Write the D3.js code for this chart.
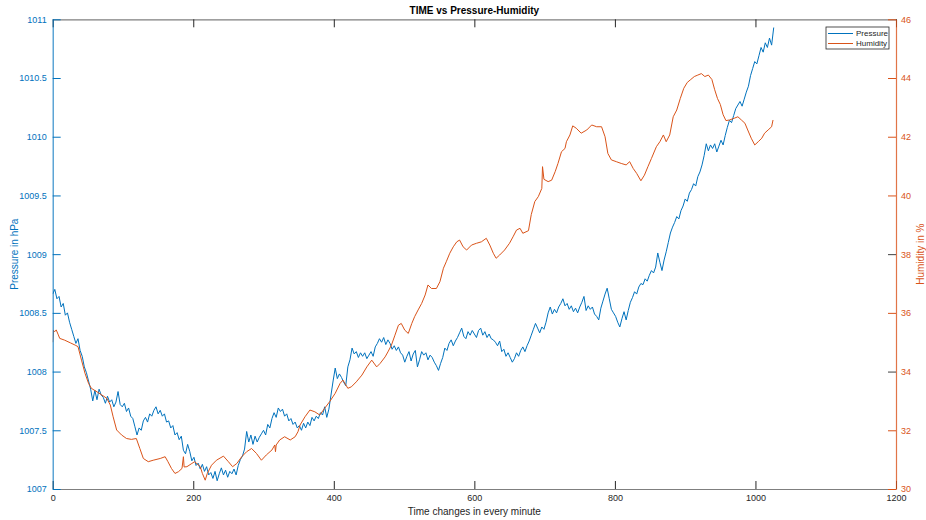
<!DOCTYPE html>
<html>
<head>
<meta charset="utf-8">
<script src="https://cdn.jsdelivr.net/npm/d3@7"></script>
<style>
  html, body { margin: 0; padding: 0; background: #fff; }
  svg { display: block; font-family: "Liberation Sans", Arial, Helvetica, sans-serif; }
</style>
</head>
<body>
<svg id="chart" width="926" height="520"></svg>
<script>
// Barometric pressure sampled every 3 minutes (hPa)
const pressureStep = 3;
const pressure = [
  1008.66, 1008.70, 1008.62, 1008.64, 1008.55, 1008.58, 1008.48, 1008.50, 1008.42, 1008.36,
  1008.30, 1008.24, 1008.28, 1008.18, 1008.13, 1008.04, 1007.99, 1007.92, 1007.85, 1007.75,
  1007.84, 1007.76, 1007.85, 1007.80, 1007.78, 1007.73, 1007.79, 1007.74, 1007.76, 1007.70,
  1007.74, 1007.83, 1007.72, 1007.70, 1007.73, 1007.66, 1007.69, 1007.62, 1007.60, 1007.53,
  1007.46, 1007.52, 1007.50, 1007.58, 1007.61, 1007.57, 1007.64, 1007.62, 1007.67, 1007.70,
  1007.64, 1007.67, 1007.62, 1007.64, 1007.57, 1007.58, 1007.52, 1007.54, 1007.46, 1007.48,
  1007.42, 1007.45, 1007.33, 1007.30, 1007.38, 1007.32, 1007.24, 1007.27, 1007.20, 1007.22,
  1007.17, 1007.21, 1007.15, 1007.19, 1007.12, 1007.14, 1007.09, 1007.15, 1007.07, 1007.13,
  1007.18, 1007.12, 1007.16, 1007.10, 1007.15, 1007.13, 1007.17, 1007.12, 1007.20, 1007.25,
  1007.28, 1007.34, 1007.49, 1007.40, 1007.46, 1007.38, 1007.45, 1007.40, 1007.44, 1007.47,
  1007.50, 1007.46, 1007.55, 1007.52, 1007.60, 1007.65, 1007.61, 1007.69, 1007.66, 1007.68,
  1007.62, 1007.64, 1007.58, 1007.60, 1007.55, 1007.57, 1007.52, 1007.54, 1007.50, 1007.56,
  1007.52, 1007.57, 1007.54, 1007.61, 1007.58, 1007.62, 1007.60, 1007.65, 1007.63, 1007.70,
  1007.61, 1007.68, 1007.80, 1007.92, 1008.03, 1007.94, 1007.98, 1007.95, 1007.91, 1007.88,
  1008.04, 1008.10, 1008.20, 1008.15, 1008.17, 1008.12, 1008.16, 1008.13, 1008.16, 1008.11,
  1008.14, 1008.17, 1008.13, 1008.21, 1008.24, 1008.28, 1008.25, 1008.29, 1008.23, 1008.27,
  1008.24, 1008.19, 1008.22, 1008.18, 1008.21, 1008.16, 1008.14, 1008.08, 1008.13, 1008.17,
  1008.09, 1008.15, 1008.18, 1008.04, 1008.10, 1008.17, 1008.14, 1008.16, 1008.10, 1008.14,
  1008.12, 1008.08, 1008.05, 1008.01, 1008.07, 1008.12, 1008.20, 1008.18, 1008.24, 1008.27,
  1008.22, 1008.26, 1008.29, 1008.33, 1008.37, 1008.30, 1008.28, 1008.34, 1008.31, 1008.35,
  1008.32, 1008.29, 1008.35, 1008.37, 1008.31, 1008.34, 1008.29, 1008.32, 1008.28, 1008.27,
  1008.25, 1008.22, 1008.26, 1008.17, 1008.19, 1008.13, 1008.16, 1008.12, 1008.08, 1008.11,
  1008.16, 1008.13, 1008.18, 1008.21, 1008.17, 1008.22, 1008.26, 1008.31, 1008.36, 1008.41,
  1008.37, 1008.33, 1008.38, 1008.36, 1008.42, 1008.50, 1008.55, 1008.49, 1008.53, 1008.50,
  1008.55, 1008.58, 1008.62, 1008.56, 1008.58, 1008.53, 1008.56, 1008.51, 1008.54, 1008.50,
  1008.55, 1008.59, 1008.64, 1008.52, 1008.56, 1008.53, 1008.55, 1008.49, 1008.47, 1008.44,
  1008.54, 1008.60, 1008.66, 1008.71, 1008.62, 1008.53, 1008.50, 1008.47, 1008.42, 1008.38,
  1008.45, 1008.51, 1008.44, 1008.52, 1008.59, 1008.63, 1008.68, 1008.66, 1008.72, 1008.75,
  1008.74, 1008.79, 1008.77, 1008.82, 1008.86, 1008.84, 1008.89, 1009.01, 1008.93, 1008.86,
  1008.95, 1009.02, 1009.10, 1009.18, 1009.23, 1009.27, 1009.32, 1009.30, 1009.37, 1009.41,
  1009.47, 1009.45, 1009.52, 1009.55, 1009.60, 1009.58, 1009.66, 1009.70, 1009.76, 1009.84,
  1009.94, 1009.88, 1009.93, 1009.90, 1009.94, 1009.87, 1009.92, 1009.97, 1009.93, 1010.01,
  1010.08, 1010.14, 1010.12, 1010.18, 1010.24, 1010.27, 1010.30, 1010.26, 1010.32, 1010.38,
  1010.43, 1010.52, 1010.58, 1010.64, 1010.62, 1010.69, 1010.76, 1010.72, 1010.80, 1010.76,
  1010.84, 1010.78, 1010.93
];

// Relative humidity readings (minute, %)
const humidityTime = [
  0, 1, 3, 5, 8, 10, 17, 25, 32, 36, 41, 46, 51, 55, 63, 70, 77, 82, 86, 91,
  98, 105, 112, 119, 124, 129, 136, 143, 153, 160, 164, 169, 174, 179, 184, 186, 187, 191, 198, 202,
  210, 213, 217, 220, 226, 233, 243, 250, 256, 262, 269, 276, 283, 290, 297, 304, 312, 316, 317, 318,
  323, 330, 338, 345, 349, 352, 359, 366, 373, 380, 387, 394, 402, 409, 413, 420, 425, 432, 440, 447,
  454, 461, 466, 473, 477, 482, 487, 492, 496, 501, 506, 511, 515, 520, 525, 530, 534, 539, 546, 551,
  556, 560, 565, 570, 575, 579, 584, 589, 596, 603, 610, 617, 622, 627, 631, 636, 643, 650, 655, 660,
  665, 669, 677, 681, 686, 691, 696, 697, 699, 705, 710, 715, 719, 724, 729, 731, 736, 740, 745, 752,
  760, 767, 774, 781, 786, 790, 795, 802, 809, 816, 821, 826, 831, 837, 842, 847, 852, 859, 864, 869,
  873, 878, 883, 888, 893, 898, 903, 908, 913, 918, 923, 928, 933, 938, 942, 946, 950, 954, 958, 963,
  970, 975, 980, 985, 989, 994, 999, 1004, 1009, 1013, 1018, 1023, 1025
];
const humidity = [
  35.00, 35.40, 35.36, 35.42, 35.25, 35.13, 35.07, 34.98, 34.90, 34.85, 34.39, 33.94, 33.60, 33.43, 33.31, 33.20, 33.09, 32.86, 32.46, 32.01,
  31.84, 31.72, 31.69, 31.72, 31.38, 31.04, 30.93, 30.98, 31.04, 31.10, 30.93, 30.70, 30.53, 30.59, 30.70, 31.10, 30.75, 30.76, 30.87, 30.93,
  30.76, 30.53, 30.30, 30.53, 30.81, 30.98, 31.12, 30.93, 30.76, 30.87, 31.10, 31.27, 31.38, 31.21, 30.98, 31.16, 31.33, 31.50, 31.27, 31.50,
  31.67, 31.78, 31.67, 31.78, 31.95, 32.18, 32.46, 32.69, 32.63, 32.52, 32.75, 32.97, 33.26, 33.60, 33.71, 33.43, 33.48, 33.65, 33.88, 34.16,
  34.39, 34.16, 34.28, 34.50, 34.67, 34.90, 35.24, 35.58, 35.64, 35.41, 35.30, 35.64, 35.87, 36.10, 36.32, 36.61, 36.95, 36.83, 36.83, 37.06,
  37.52, 37.74, 38.03, 38.25, 38.42, 38.48, 38.25, 38.14, 38.31, 38.37, 38.42, 38.54, 38.31, 38.03, 37.86, 37.97, 38.14, 38.37, 38.59, 38.82,
  38.88, 38.71, 38.80, 39.35, 39.79, 39.96, 40.24, 40.98, 40.55, 40.47, 40.52, 40.81, 41.09, 41.49, 41.60, 41.83, 42.06, 42.37, 42.29, 42.12,
  42.23, 42.40, 42.34, 42.34, 42.00, 41.43, 41.21, 41.15, 41.09, 41.04, 41.15, 40.92, 40.75, 40.50, 40.69, 40.98, 41.26, 41.66, 41.83, 42.06,
  41.83, 42.06, 42.68, 42.91, 43.30, 43.65, 43.85, 43.95, 44.05, 44.10, 44.15, 44.05, 44.10, 43.95, 43.60, 43.30, 43.10, 42.75, 42.55, 42.57,
  42.63, 42.68, 42.57, 42.46, 42.23, 41.95, 41.72, 41.83, 41.95, 42.12, 42.23, 42.34, 42.57
];

// Axis ticks
const xTicks = [0, 200, 400, 600, 800, 1000, 1200];
const pressureTicks = [1007, 1007.5, 1008, 1008.5, 1009, 1009.5, 1010, 1010.5, 1011];
const humidityTicks = [30, 32, 34, 36, 38, 40, 42, 44, 46];

const seriesNames = ["Pressure", "Humidity"];
const titleText = "TIME vs Pressure-Humidity";
const xLabel = "Time changes in every minute";
const leftLabel = "Pressure in hPa";
const rightLabel = "Humidity in %";

// ---- layout ----
const blue = "#0072BD";
const orange = "#D95319";
const dark = "#262626";
const margin = { left: 52.7, right: 896, top: 19.3, bottom: 489 };
const tickLen = 8;

const svg = d3.select("#chart");

const x = d3.scaleLinear().domain([0, 1200]).range([margin.left, margin.right]);
const yP = d3.scaleLinear().domain([1007, 1011]).range([margin.bottom, margin.top]);
const yH = d3.scaleLinear().domain([30, 46]).range([margin.bottom, margin.top]);

const pressureData = pressure.map((v, i) => ({ t: i * pressureStep, v }));
const humidityData = humidity.map((v, i) => ({ t: humidityTime[i], v }));

// data lines
const clipId = "plotClip";
svg.append("clipPath").attr("id", clipId).append("rect")
  .attr("x", margin.left).attr("y", margin.top)
  .attr("width", margin.right - margin.left).attr("height", margin.bottom - margin.top);

const plot = svg.append("g").attr("clip-path", `url(#${clipId})`);

plot.append("path")
  .datum(pressureData)
  .attr("fill", "none")
  .attr("stroke", blue)
  .attr("stroke-width", 1)
  .attr("stroke-linejoin", "round")
  .attr("d", d3.line().x(d => x(d.t)).y(d => yP(d.v)));

plot.append("path")
  .datum(humidityData)
  .attr("fill", "none")
  .attr("stroke", orange)
  .attr("stroke-width", 1)
  .attr("stroke-linejoin", "round")
  .attr("d", d3.line().x(d => x(d.t)).y(d => yH(d.v)));

// bottom axis (ticks point inward)
const xAxisBottom = svg.append("g")
  .attr("transform", `translate(0,${margin.bottom})`)
  .call(d3.axisBottom(x).tickValues(xTicks).tickSizeInner(-tickLen).tickSizeOuter(0).tickPadding(5).tickFormat(d3.format("d")));
xAxisBottom.select(".domain").attr("stroke", "#7f7f7f").attr("stroke-width", 1.2);
xAxisBottom.selectAll(".tick line").attr("stroke", dark);
xAxisBottom.selectAll(".tick text")
  .attr("fill", dark).attr("font-size", 9).attr("dy", "0.71em").attr("y", 6)
  .attr("font-family", "Liberation Sans, Arial, sans-serif");

// top box edge with mirrored x ticks
const xAxisTop = svg.append("g")
  .attr("transform", `translate(0,${margin.top})`)
  .call(d3.axisTop(x).tickValues(xTicks).tickSizeInner(-tickLen).tickSizeOuter(0).tickFormat(""));
xAxisTop.select(".domain").attr("stroke", "#7f7f7f").attr("stroke-width", 1.2);
xAxisTop.selectAll(".tick line").attr("stroke", dark);

// left axis: pressure
const yAxisLeft = svg.append("g")
  .attr("transform", `translate(${margin.left},0)`)
  .call(d3.axisLeft(yP).tickValues(pressureTicks).tickSizeInner(-tickLen).tickSizeOuter(0).tickPadding(5).tickFormat(d3.format("")));
yAxisLeft.select(".domain").attr("stroke", blue).attr("stroke-width", 1.2).attr("opacity", 0.8);
yAxisLeft.selectAll(".tick line").attr("stroke", blue);
yAxisLeft.selectAll(".tick text")
  .attr("fill", blue).attr("font-size", 9).attr("x", -6)
  .attr("font-family", "Liberation Sans, Arial, sans-serif");

// right axis: humidity
const yAxisRight = svg.append("g")
  .attr("transform", `translate(${margin.right},0)`)
  .call(d3.axisRight(yH).tickValues(humidityTicks).tickSizeInner(-tickLen).tickSizeOuter(0).tickPadding(5).tickFormat(d3.format("d")));
yAxisRight.select(".domain").attr("stroke", orange).attr("stroke-width", 1.2).attr("opacity", 0.8);
yAxisRight.selectAll(".tick line").attr("stroke", d => (d === 34 || d === 38) ? "#404040" : orange);
yAxisRight.selectAll(".tick text")
  .attr("fill", orange).attr("font-size", 9).attr("x", 5)
  .attr("font-family", "Liberation Sans, Arial, sans-serif");

// title and axis labels
svg.append("text")
  .attr("x", (margin.left + margin.right) / 2).attr("y", 14)
  .attr("text-anchor", "middle").attr("font-size", 10).attr("font-weight", "bold")
  .attr("fill", "#000").text(titleText);

svg.append("text")
  .attr("x", (margin.left + margin.right) / 2).attr("y", 515)
  .attr("text-anchor", "middle").attr("font-size", 10)
  .attr("fill", dark).text(xLabel);

svg.append("text")
  .attr("transform", `translate(18,${(margin.top + margin.bottom) / 2}) rotate(-90)`)
  .attr("text-anchor", "middle").attr("font-size", 10)
  .attr("fill", blue).text(leftLabel);

svg.append("text")
  .attr("transform", `translate(924,${(margin.top + margin.bottom) / 2}) rotate(-90)`)
  .attr("text-anchor", "middle").attr("font-size", 10)
  .attr("fill", orange).text(rightLabel);

// legend
const legend = svg.append("g").attr("transform", "translate(826,27)");
legend.append("rect")
  .attr("width", 63).attr("height", 22)
  .attr("fill", "#fff").attr("stroke", "#262626").attr("stroke-width", 0.8);
const legendColors = [blue, orange];
seriesNames.forEach((name, i) => {
  const cy = 6.5 + i * 10;
  legend.append("line")
    .attr("x1", 2).attr("x2", 27).attr("y1", cy).attr("y2", cy)
    .attr("stroke", legendColors[i]).attr("stroke-width", 1);
  legend.append("text")
    .attr("x", 30).attr("y", cy).attr("dy", "0.35em")
    .attr("font-size", 8).attr("fill", dark).text(name);
});
</script>
</body>
</html>
